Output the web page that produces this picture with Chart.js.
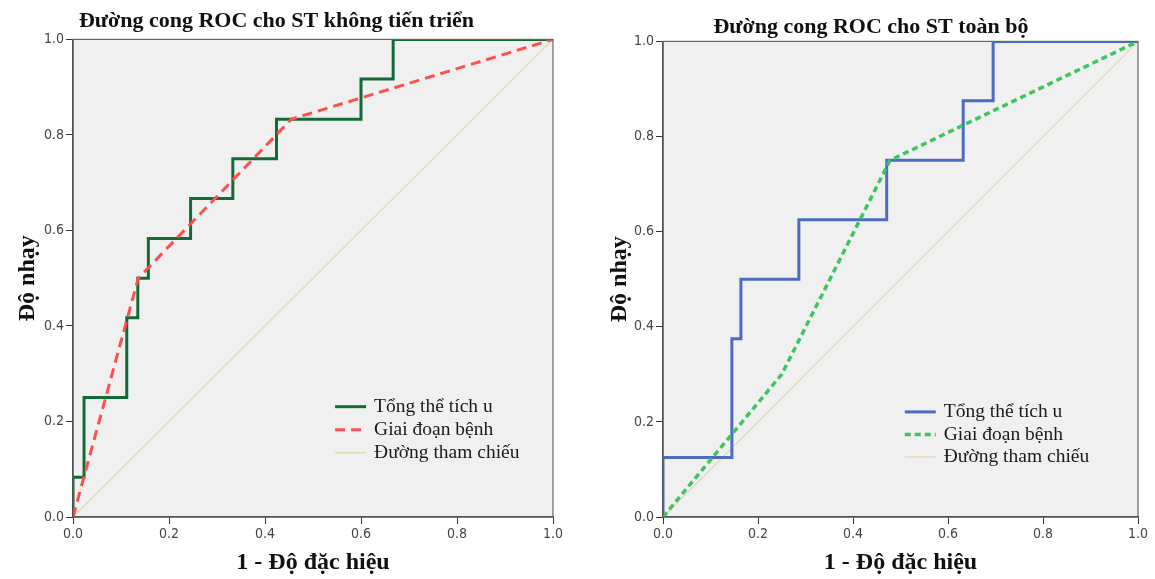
<!DOCTYPE html>
<html>
<head>
<meta charset="utf-8">
<script src="https://cdn.jsdelivr.net/npm/chart.js@4.4.1/dist/chart.umd.min.js"></script>
<style>
  body { margin: 0; background: #fff; width: 1155px; height: 579px; position: relative; overflow: hidden; }
  canvas { position: absolute; top: 0; }
  #rocLeft { left: 0; }
  #rocRight { left: 604px; }
</style>
</head>
<body>
<canvas id="rocLeft" width="578" height="579"></canvas>
<canvas id="rocRight" width="551" height="579"></canvas>
<script>
// nhãn trục và tên chuỗi
var axisTicks = [0, 0.2, 0.4, 0.6, 0.8, 1.0];
var seriesNames = ['Tổng thể tích u', 'Giai đoạn bệnh', 'Đường tham chiếu'];
var refX = [0, 1];
var refY = [0, 1];

// ST không tiến triển
var leftVolX = [0, 0, 0.023, 0.112, 0.135, 0.157, 0.245, 0.333, 0.424, 0.600, 0.667, 1];
var leftVolY = [0, 0.083, 0.250, 0.417, 0.500, 0.583, 0.667, 0.750, 0.833, 0.917, 1, 1];
var leftStageX = [0, 0.136, 0.455, 1];
var leftStageY = [0, 0.500, 0.833, 1];

// ST toàn bộ
var rightVolX = [0, 0, 0.145, 0.164, 0.286, 0.471, 0.632, 0.695, 1];
var rightVolY = [0, 0.125, 0.375, 0.500, 0.625, 0.750, 0.875, 1, 1];
var rightStageX = [0, 0.250, 0.478, 1];
var rightStageY = [0, 0.300, 0.750, 1];

var serif = '"Liberation Serif", "Times New Roman", serif';
var sans = '"DejaVu Sans Condensed", "Liberation Sans Narrow", "DejaVu Sans", sans-serif';

function pts(xs, ys) {
  return xs.map(function (x, i) { return { x: x, y: ys[i] }; });
}

// nền xám và khung vùng vẽ
var plotFrame = {
  id: 'plotFrame',
  beforeDraw: function (chart) {
    var a = chart.chartArea, ctx = chart.ctx;
    ctx.save();
    ctx.fillStyle = '#f0f0f0';
    ctx.fillRect(a.left, a.top, a.right - a.left, a.bottom - a.top);
    ctx.restore();
  },
  afterDraw: function (chart) {
    var a = chart.chartArea, ctx = chart.ctx;
    ctx.save();
    ctx.strokeStyle = '#666';
    ctx.lineWidth = 1.2;
    ctx.strokeRect(a.left, a.top, a.right - a.left, a.bottom - a.top);
    ctx.restore();
  }
};

// chú giải nằm trong vùng vẽ
var insideLegend = {
  id: 'insideLegend',
  afterDraw: function (chart, args, opts) {
    var a = chart.chartArea, ctx = chart.ctx;
    var x = a.left + opts.x * (a.right - a.left);
    var y = a.top + opts.y * (a.bottom - a.top);
    ctx.save();
    ctx.font = '19.5px ' + serif;
    ctx.textBaseline = 'middle';
    chart.data.datasets.forEach(function (ds, i) {
      var yy = y + i * opts.gap;
      ctx.strokeStyle = ds.borderColor;
      ctx.lineWidth = Math.max(ds.borderWidth, 1.5);
      ctx.setLineDash(ds.borderDash || []);
      ctx.beginPath();
      ctx.moveTo(x, yy);
      ctx.lineTo(x + 31, yy);
      ctx.stroke();
      ctx.setLineDash([]);
      ctx.fillStyle = '#1a1a1a';
      ctx.fillText(ds.label, x + 39, yy);
    });
    ctx.restore();
  }
};

function makeChart(id, opt) {
  return new Chart(document.getElementById(id), {
    type: 'line',
    data: {
      datasets: [
        { label: seriesNames[0], data: pts(opt.volX, opt.volY), stepped: 'before',
          borderColor: opt.volColor, borderWidth: 3, pointRadius: 0, order: 1 },
        { label: seriesNames[1], data: pts(opt.stageX, opt.stageY),
          borderColor: opt.stageColor, borderWidth: opt.dashWidth, borderDash: opt.dash,
          pointRadius: 0, order: 0 },
        { label: seriesNames[2], data: pts(refX, refY),
          borderColor: opt.refColor, borderWidth: 1.3, pointRadius: 0, order: 2 }
      ]
    },
    options: {
      responsive: false,
      animation: false,
      devicePixelRatio: 1,
      layout: { padding: { left: 0, right: opt.padRight, top: 0, bottom: 0 } },
      plugins: {
        legend: { display: false },
        tooltip: { enabled: false },
        title: {
          display: true, text: opt.title, color: '#111',
          font: { family: serif, size: 22, weight: 'bold' },
          padding: opt.titlePad
        },
        insideLegend: opt.legend
      },
      scales: {
        x: {
          type: 'linear', min: 0, max: 1,
          afterBuildTicks: function (s) { s.ticks = axisTicks.map(function (v) { return { value: v }; }); },
          afterFit: function (s) { s.height = 62; s.paddingLeft = 0; s.paddingRight = 0; },
          grid: { drawOnChartArea: false, drawTicks: true, tickLength: 7, color: '#333' },
          border: { display: true, color: '#333', width: 1.5 },
          ticks: { color: '#444', padding: 2, font: { family: sans, size: 14 },
                   callback: function (v) { return v.toFixed(1); } },
          title: { display: true, text: '1 - Độ đặc hiệu', color: '#111',
                   font: { family: serif, size: 24, weight: 'bold' }, padding: { top: 0, bottom: 2 } }
        },
        y: {
          type: 'linear', min: 0, max: 1,
          afterBuildTicks: function (s) { s.ticks = axisTicks.map(function (v) { return { value: v }; }); },
          afterFit: function (s) { s.width = opt.yWidth; s.paddingTop = 0; s.paddingBottom = 0; },
          grid: { drawOnChartArea: false, drawTicks: true, tickLength: 7, color: '#333' },
          border: { display: true, color: '#333', width: 1.5 },
          ticks: { color: '#444', padding: 2, font: { family: sans, size: 14 },
                   callback: function (v) { return v.toFixed(1); } },
          title: { display: true, text: 'Độ nhạy', color: '#111',
                   font: { family: serif, size: 24, weight: 'bold' }, padding: { top: opt.yTitlePad, bottom: 0 } }
        }
      }
    },
    plugins: [plotFrame, insideLegend]
  });
}

makeChart('rocLeft', {
  title: 'Đường cong ROC cho ST không tiến triển',
  volX: leftVolX, volY: leftVolY, stageX: leftStageX, stageY: leftStageY,
  volColor: '#146a37', stageColor: '#ff4f4f', refColor: '#dedab2',
  dash: [10, 6], dashWidth: 3,
  padRight: 25, yWidth: 73, yTitlePad: 13,
  titlePad: { top: 8, bottom: 5 },
  legend: { x: 0.546, y: 0.769, gap: 23 }
});

makeChart('rocRight', {
  title: 'Đường cong ROC cho ST toàn bộ',
  volX: rightVolX, volY: rightVolY, stageX: rightStageX, stageY: rightStageY,
  volColor: '#4b6cc1', stageColor: '#3ec55e', refColor: '#e6d8bf',
  dash: [6, 4], dashWidth: 3.5,
  padRight: 17, yWidth: 59, yTitlePad: 1,
  titlePad: { top: 14, bottom: 1 },
  legend: { x: 0.509, y: 0.779, gap: 22.5 }
});
</script>
</body>
</html>
